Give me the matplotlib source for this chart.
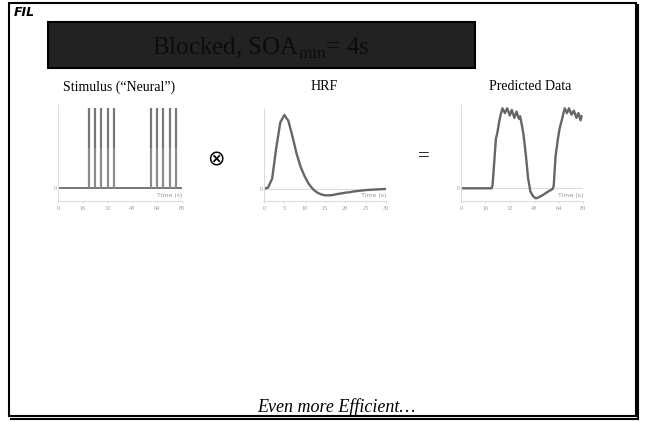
import matplotlib
matplotlib.use("Agg")
import matplotlib.pyplot as plt
from matplotlib.patches import Rectangle

plt.rcParams['font.family'] = ['Liberation Serif', 'DejaVu Serif']
plt.rcParams['mathtext.fontset'] = 'custom'
plt.rcParams['mathtext.rm'] = 'Liberation Serif'

# ---- data ----
stim_times = [20, 24, 28, 32, 36, 60, 64, 68, 72, 76]
stim_height = [1, 1, 1, 1, 1, 1, 1, 1, 1, 1]
stim_ticks = [0, 16, 32, 48, 64, 80]

hrf_t = [0, 1, 2, 3, 4, 5, 6, 7, 8, 9, 10, 11, 12, 13, 14, 15, 16, 17, 18,
         19, 20, 21, 22, 23, 24, 25, 26, 27, 28, 29, 30]
hrf_v = [0.0, 0.02, 0.14, 0.55, 0.90, 1.0, 0.92, 0.71, 0.48, 0.30, 0.17,
         0.07, 0.0, -0.045, -0.072, -0.085, -0.086, -0.08, -0.068, -0.06,
         -0.05, -0.044, -0.034, -0.027, -0.021, -0.015, -0.011, -0.008,
         -0.005, -0.002, 0.0]
hrf_ticks = [0, 5, 10, 15, 20, 25, 30]

pred_t = [0, 20, 20.7, 21.8, 22.9, 24, 25, 26, 27.2, 28.8, 30.3, 32, 33.3,
          35, 36.4, 37.9, 38.8, 40, 41, 42.5, 44, 45.5, 47.3, 49, 50.5,
          53.8, 57, 60, 60.8, 62, 63.6, 64.7, 66.4, 68, 69.5, 70.8, 72.5,
          74, 75.7, 77, 78.4, 79]
pred_v = [0, 0, 0.04, 0.33, 0.62, 0.71, 0.83, 0.92, 1.0, 0.94, 1.0, 0.91,
          0.98, 0.88, 0.96, 0.87, 0.90, 0.78, 0.67, 0.42, 0.125, -0.04,
          -0.10, -0.125, -0.117, -0.083, -0.042, -0.01, 0.03, 0.40, 0.625,
          0.75, 0.875, 1.0, 0.94, 1.0, 0.92, 0.97, 0.88, 0.94, 0.85, 0.90]
pred_ticks = [0, 16, 32, 48, 64, 80]

W, H = 645, 422
fig = plt.figure(figsize=(W / 100, H / 100), dpi=100)
fig.patch.set_facecolor('white')

bg = fig.add_axes([0, 0, 1, 1])
bg.set_xlim(0, W)
bg.set_ylim(H, 0)
bg.axis('off')

# slide frame with a slight shadow on the right and bottom
bg.add_patch(Rectangle((9, 3), 627, 413, fill=False, ec='black', lw=1.5))
bg.plot([637.5, 637.5], [5, 418.5], color='black', lw=1.5)
bg.plot([11, 637.5], [418.5, 418.5], color='black', lw=1.5)

# logo
bg.text(14, 13, 'FIL', family='DejaVu Sans', fontsize=9, weight='bold',
        style='italic', va='center', ha='left', color='black')

# title banner
bg.add_patch(Rectangle((48, 22), 427, 46, fc='#222222', ec='black', lw=1.5))
bg.text(261, 48, r'Blocked, SOA$_{\mathrm{min}}$= 4s', fontsize=18,
        ha='center', va='center', color='#0c0c0c')

# panel captions and operators
bg.text(119, 87, 'Stimulus (\u201cNeural\u201d)', fontsize=10, ha='center', va='center')
bg.text(324, 87, 'HRF', fontsize=10, ha='center', va='center')
bg.text(530, 87, 'Predicted Data', fontsize=10, ha='center', va='center')
bg.text(216, 159, '\u2297', family='DejaVu Sans', fontsize=15, ha='center', va='center')
bg.text(424, 157, '=', fontsize=15, ha='center', va='center')

bg.text(336, 407, 'Even more Efficient\u2026', fontsize=13, style='italic',
        ha='center', va='center')


def panel(left, right, top, bottom, x0, x1, zero_y, one_y):
    """Create an axes whose data range maps onto the given pixel box."""
    ax = fig.add_axes([left / W, 1 - bottom / H, (right - left) / W, (bottom - top) / H])
    ppu = zero_y - one_y
    ax.set_xlim(x0, x1)
    ax.set_ylim(-(bottom - zero_y) / ppu, (zero_y - top) / ppu)
    ax.patch.set_alpha(0)
    for s in ('top', 'right'):
        ax.spines[s].set_visible(False)
    for s in ('left', 'bottom'):
        ax.spines[s].set_color('#dddddd')
        ax.spines[s].set_linewidth(0.8)
    ax.set_yticks([0])
    ax.set_yticklabels(['0'])
    ax.tick_params(axis='y', length=0, labelsize=4.5, labelcolor='#999999', pad=1)
    ax.tick_params(axis='x', length=1.5, color='#dddddd', labelsize=4.5,
                   labelcolor='#999999', pad=2)
    ax.text(1.0, 0.03, 'Time (s)', transform=ax.transAxes, family='DejaVu Sans',
            fontsize=4.5, color='#999999', ha='right', va='bottom')
    return ax


# stimulus train
ax1 = panel(58, 182, 105, 201, 0, 80, 188, 108)
ax1.axhline(0, color='#777777', lw=1.4, zorder=1)
ax1.vlines(stim_times, 0, [h * 0.5 for h in stim_height], color='#8c8c8c', lw=1.6)
ax1.vlines(stim_times, [h * 0.5 for h in stim_height], stim_height, color='#777777', lw=1.6)
ax1.set_xticks(stim_ticks)

# haemodynamic response function
ax2 = panel(264, 386, 108, 201, 0, 30, 189, 115)
ax2.axhline(0, color='#dddddd', lw=0.8, zorder=1)
ax2.plot(hrf_t, hrf_v, color='#666666', lw=1.7, solid_joinstyle='round')
ax2.set_xticks(hrf_ticks)

# predicted signal
ax3 = panel(461, 583, 105, 201, 0, 80, 188.3, 108.3)
ax3.axhline(0, color='#dddddd', lw=0.8, zorder=1)
ax3.plot(pred_t, pred_v, color='#666666', lw=1.7, solid_joinstyle='round')
ax3.set_xticks(pred_ticks)

fig.savefig('out.png', dpi=100)
